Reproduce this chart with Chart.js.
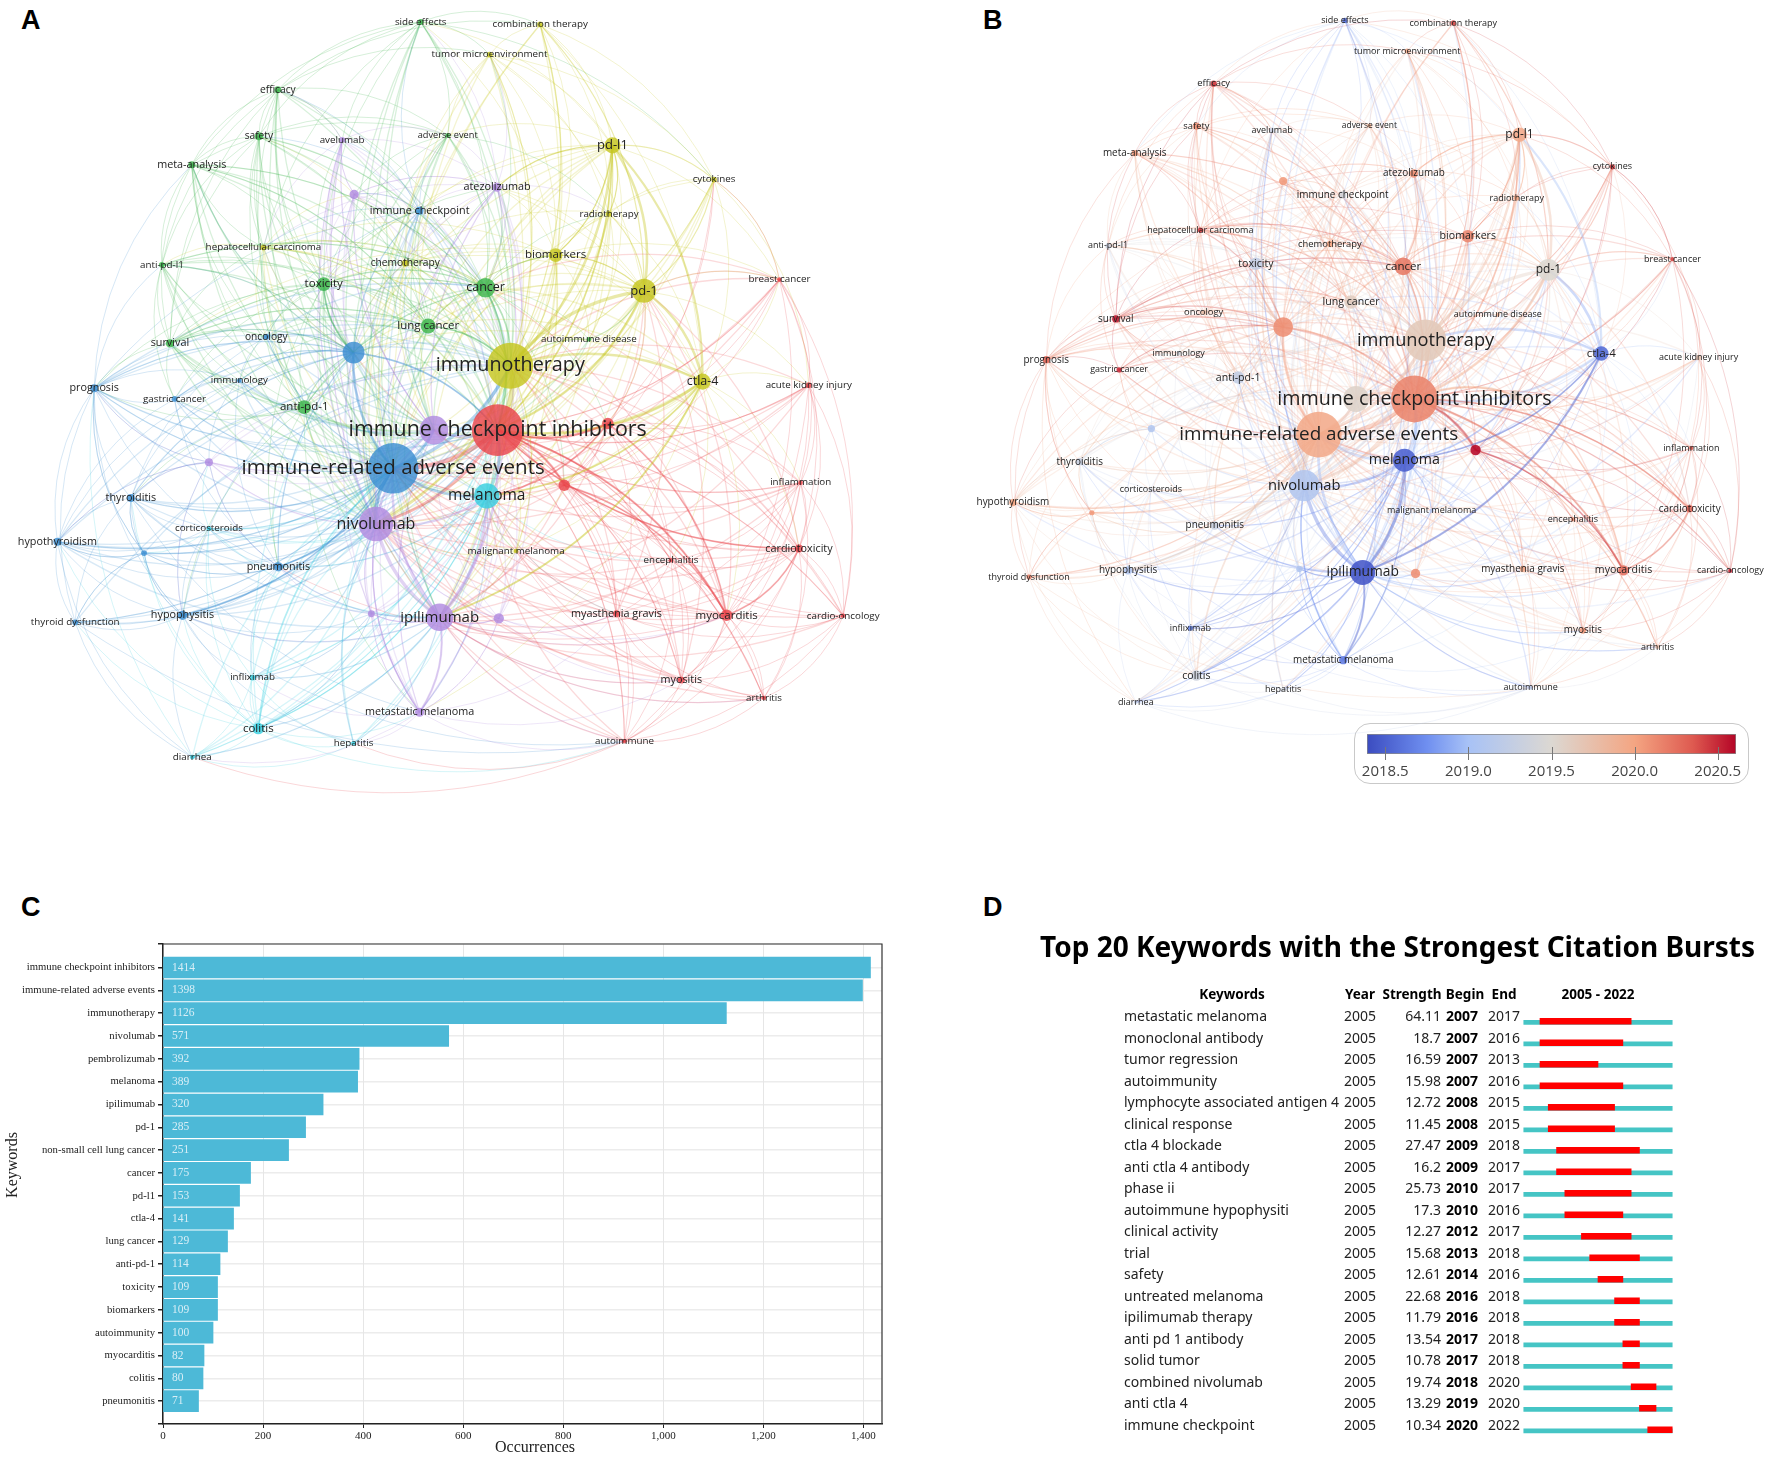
<!DOCTYPE html>
<html>
<head>
<meta charset="utf-8">
<title>Immune checkpoint keywords</title>
<script src="https://cdn.jsdelivr.net/npm/chart.js@4/dist/chart.umd.js"></script>
<style>
  html, body { margin: 0; padding: 0; background: #fff; }
  #page { position: relative; width: 1772px; height: 1461px; overflow: hidden; }
  #page canvas { position: absolute; }
  .letter { position: absolute; font: bold 27px "Liberation Sans", sans-serif; color: #000; line-height: 27px; }
  #legend-box { position: absolute; left: 1354px; top: 723px; width: 393px; height: 59px; border: 1.5px solid #c9c9c9; border-radius: 16px; }
</style>
</head>
<body>
<div id="page">
  <div class="letter" style="left:21px;top:7px">A</div>
  <div class="letter" style="left:983px;top:7px">B</div>
  <div class="letter" style="left:21px;top:894px">C</div>
  <div class="letter" style="left:983px;top:894px">D</div>
  <div id="legend-box"></div>
  <canvas id="net-a" width="900" height="800" style="left:0;top:0"></canvas>
  <canvas id="net-b" width="872" height="800" style="left:900px;top:0"></canvas>
  <canvas id="color-bar" width="409" height="48" style="left:1347px;top:734px"></canvas>
  <canvas id="bars" width="900" height="531" style="left:0;top:930px"></canvas>
  <canvas id="bursts" width="812" height="536" style="left:960px;top:925px"></canvas>
</div>
<script>
// Network nodes, index is the node id. Layout units are 0-1568 on both axes
const nodeNames = ['immune checkpoint inhibitors','immune-related adverse events','immunotherapy','nivolumab','','melanoma','ipilimumab','pd-1','','cancer',
  'pd-l1','ctla-4','lung cancer','anti-pd-1','toxicity','biomarkers','','myocarditis','colitis','pneumonitis',
  '','hypophysitis','survival','prognosis','hypothyroidism','thyroiditis','metastatic melanoma','atezolizumab','immune checkpoint','myasthenia gravis',
  'myositis','cardiotoxicity','chemotherapy','meta-analysis','safety','efficacy','side effects','combination therapy','tumor microenvironment','avelumab',
  'adverse event','cytokines','radiotherapy','hepatocellular carcinoma','anti-pd-l1','breast cancer','autoimmune disease','oncology','immunology','gastric cancer',
  'acute kidney injury','inflammation','corticosteroids','malignant melanoma','encephalitis','thyroid dysfunction','cardio-oncology','arthritis','autoimmune','hepatitis',
  'diarrhea','infliximab','','','','',''];
const nodeXA = [867,685,889,655,756,848,766,1122,616,846,1067,1224,746,530,564,968,1059,1266,450,485,983,318,296,164,100,228,731,866,731,1074,1187,1392,706,334,451,484,733,941,853,596,780,1244,1061,459,282,1358,1026,464,417,304,1409,1395,364,899,1169,131,1469,1331,1088,616,335,440,617,364,251,647,869];
const nodeYA = [843,918,717,1027,843,972,1210,570,691,564,285,748,639,798,557,500,830,1206,1428,1111,951,1206,673,761,1062,976,1396,367,413,1203,1333,1075,516,323,267,176,43,48,107,274,265,352,419,485,519,548,665,660,746,782,755,946,1036,1080,1098,1220,1207,1368,1453,1457,1484,1328,381,906,1084,1203,1212];
const nodeXB = [925,753,945,727,820,907,832,1166,689,905,1114,1261,811,608,640,1021,1106,1301,533,566,1035,410,388,263,203,323,797,924,796,1120,1228,1420,773,422,533,564,800,995,912,669,844,1281,1109,540,374,1389,1075,546,501,394,1436,1423,451,956,1210,232,1493,1362,1134,689,424,522,689,452,345,718,927];
const nodeYB = [782,852,667,952,782,902,1122,529,641,522,264,693,592,740,517,463,775,1118,1324,1030,882,1118,625,705,985,905,1294,340,382,1115,1236,997,478,300,247,164,40,45,100,255,246,327,388,451,482,508,617,612,692,725,701,878,960,1001,1018,1131,1119,1268,1348,1351,1376,1231,355,840,1005,1115,1124];
const nodeWeight = [45,44,40,30,25,22,24,21,19,17,14,14,13,12,12,12,10,10,10,8,10,8,7,7,7,7,8,8,7,6,6,7,6,6,7,6,5,5,5,5,4,5,5,5,5,4,4,5,4,5,5,4,4,4,4,5,4,4,4,4,4,5,8,7,5,6,9];
const labelSize = [21.4,20.5,19.8,16,0,15.5,15,13,0,12.5,13,12.5,11.5,11.5,11.5,11.5,0,11.5,11.5,10.8,0,10.8,10.8,10.8,10.8,10.8,10.8,10.8,10.8,10.8,10.8,10.8,10.2,10.8,10.2,10.2,9.8,9.8,9.8,9.8,9.2,9.8,9.8,9.8,9.8,9.8,9.8,10.2,9.8,9.8,9.8,9.8,9.8,9.8,9.8,9.8,9.8,9.8,9.8,9.8,9.8,9.8,0,0,0,0,0];
const nodeCluster = ['red','blue','yellow','purple','purple','cyan','purple','yellow','blue','green','yellow','yellow','green','green','green','yellow','red','red','cyan','blue','red','blue','green','blue','blue','blue','purple','purple','blue','red','red','red','yellow','green','green','green','green','yellow','yellow','purple','green','yellow','yellow','yellow','green','red','green','blue','blue','blue','red','red','cyan','yellow','red','blue','red','red','red','cyan','cyan','cyan','purple','purple','blue','purple','purple'];
const nodeScore = [2020.15,2019.95,2019.65,2019.1,2019.55,2018.5,2018.45,2019.5,2020.1,2020.2,2019.95,2018.55,2019.6,2019.25,2019.25,2020.15,2019.6,2020.25,2019.35,2019.3,2020.6,2019.1,2020.55,2020.3,2020,2019.3,2018.65,2020.1,2019.4,2019.95,2020.05,2020.3,2020,2020.05,2020.1,2020.45,2018.6,2020.4,2019.95,2019.3,2019.9,2020.45,2020,2020.45,2019.3,2020.4,2019.85,2019.75,2019.35,2020.5,2019.7,2020.35,2019.4,2019.1,2020.1,2020.15,2020.5,2019.75,2019.2,2019.4,2019.25,2018.7,2020.05,2019.1,2020.05,2019.1,2020.1];

// Links: targets of each node, then the thick ones as [from, to, width]
const linkTargets = [
  [16,17,20,29,30,31,45,50,51,54,56,57,58],
  [19,21,24,25,47,48,49,52,55,64,23],
  [15,32,37,38,41,42,43,46,53],
  [26,27,39,62,63,65,66,59,61],
  [26,27,39,62,63,65,66],
  [18,52,59,60,61,19,26,29,53,54],
  [18,19,21,26,27,29,30,53,61,65,66,59,60,17,57,58,39],
  [13,15,27,41,42,45,46,38,32,14,16,37,50],
  [13,14,19,22,23,47,48,49,25,28,32,43,33,44],
  [13,14,15,32,33,34,35,36,40,43,44,22,27,42,46,16,38,20],
  [15,27,32,37,38,41,42,46,14,28,36,40,45],
  [15,31,41,42,45,50,51,53,16,20,17,27,37,26,54],
  [13,14,15,22,32,33,34,40,43,44,27,28,47,48],
  [14,22,33,34,35,44,19,21,23,25,26,43,49,47,48],
  [22,33,34,35,36,40,43,44,47,48,49,23,27,28,32,39,19],
  [27,32,38,41,42,43,46,22,37,45,36],
  [17,20,29,31,45,50,51,54,56,30,41],
  [20,29,30,31,45,50,51,54,56,57,58,53,19],
  [19,21,26,52,59,60,61,25,24,55,64,58,65],
  [21,24,25,55,64,52,61,48,23,49,63],
  [29,30,31,45,50,51,54,56,57,58,41],
  [23,24,25,55,64,52,61,60,59,63,65,58],
  [23,33,34,35,44,47,48,49,43],
  [24,25,47,48,49,55,63,33,44,64,28],
  [25,55,64,52,48,49,63,60],
  [55,64,52,48,63,47,26],
  [39,58,61,65,66,59,29,30,60],
  [28,32,36,38,39,40,42,43,62],
  [32,36,39,40,43,47,62,34,35],
  [30,31,51,54,57,58,56,53],
  [31,54,56,57,58,51,53],
  [45,50,51,54,56,57,58],
  [38,40,42,43,62,34],
  [34,35,36,40,43,44,47],
  [35,36,40,43,44],
  [36,39,40,43,44,37,38],
  [37,38,39,40,43,41],
  [38,41,42],
  [41,42,40],
  [40,62,43,35],
  [62,42],
  [42,45,50],
  [46],
  [44,47,62],
  [47,48,49],
  [50,51,56,41],
  [],
  [48,49],
  [49,63],
  [63],
  [51,56,58],
  [54,56,57],
  [64,63,61],
  [],
  [56,57,58],
  [64,60,58],
  [57,58],
  [58],
  [59,60],
  [60,61],
  [61,23],
  [65],
  [27,39,28,14,9],
  [13,19,24,25,21,23],
  [24,21,19,55,25,23],
  [26,19,18,61,6],
  [26,29,17,30,53,6]
];
// Same idea, for the links that run from each node into the big central nodes
const hubTargets = [
  [],[],[],[],[],[],[],
  [0,1,3,4,5,6,8,9,12],
  [0,1,2,3,4,5,6],
  [0,1,3,4,5,6,8,12],
  [0,1,3,4,5,6,8,9,12],
  [0,1,3,4,5,6,8,9,12],
  [0,1,2,3,4,5,6],
  [0,1,2,3,4,5,6,8,9],
  [0,1,2,3,4,5,6,8,9],
  [0,1,2,3,4,5,6,9,12],
  [0,1,2,3,4,5,6,7],
  [0,1,2,3,4,5,6,7,9],
  [0,2,3,4,6,8],
  [0,2,3,4,5,6,8],
  [0,1,2,3,4,5,6,7,8],
  [0,2,3,4,5,6,8],
  [0,1,2,3,4,5,8,9,12],
  [0,1,2,3,4,8,9,12],
  [0,1,2,3,4,6,8],
  [0,1,2,3,4,6,8],
  [0,1,2,3,4,5,8],
  [0,1,2,3,4,5,6,8,9],
  [0,1,2,3,4,5,6,8],
  [0,1,2,3,5,6,7],
  [0,1,2,3,5,6,7],
  [0,1,2,3,4,6,7,9],
  [0,1,2,3,4,8,9],
  [0,1,2,3,4,8,9,12],
  [0,1,2,3,8,9],
  [0,1,2,3,4,8],
  [0,1,2,3,4,6],
  [0,1,2,3,6,7],
  [0,2,3,4,6],
  [0,1,2,3,4,6,8],
  [0,1,2,3,4,8],
  [0,1,2,3,7,10],
  [0,1,2,3,7],
  [0,1,2,3,8,9,12],
  [0,1,2,3,4,8,9],
  [0,1,2,3,7,9],
  [0,1,2,7],
  [0,1,2,8,9],
  [0,1,3,8,4],
  [0,1,2,3,8],
  [0,1,2,3,6],
  [0,1,2,3,6],
  [0,1,3,6],
  [0,1,2,3,5,6],
  [0,1,3,6],
  [0,1,2,3],
  [0,1,2,6],
  [0,1,6,3],
  [0,1,3,6,5],
  [0,1,3,6],
  [0,1,3,6,5],
  [0,1,3,5,6],
  [0,1,2,3,4,6],
  [0,1,2,3,4],
  [0,1,2,3],
  [0,1,3,5,6],
  [0,1,3,5,6,2]
];
const heavyLinks = [[0,1,5],[2,0,5],[0,3,3.5],[4,0,3],[5,0,3],[6,0,3],[1,2,4],[1,3,4],[1,4,3],[1,5,3],[6,1,3],[2,3,3],[7,2,4],[10,2,3],[11,2,3],[10,7,3],[11,7,3],[7,0,3],[10,0,2],[11,0,3],[6,3,4],[4,3,2.5],[6,5,3.5],[3,5,2.5],[17,0,2.5],[19,1,2],[21,1,2],[18,1,2],[18,5,1.5],[26,6,2.5],[26,3,1.5],[20,0,3],[16,0,3],[9,2,2],[12,2,2],[9,0,2],[8,0,2],[8,1,3],[14,8,2],[31,0,2],[31,17,2],[17,20,2],[17,16,2],[11,6,2.5],[11,5,2],[16,5,2],[10,27,1.5],[10,15,1.5],[10,42,1.2],[7,15,1.5],[11,10,2.5]];

const clusterColors = { red:'#e9444a', blue:'#3d8fd2', yellow:'#c6c61e', green:'#3cb44b', purple:'#b18be0', cyan:'#38cfe0' };

// Overlay colour scale
const scoreStops = [2018.39,2018.75,2019,2019.5,2020,2020.35,2020.61];
const scoreColors = ['#3b4cc0','#6f8ff0','#a8c2f6','#dcd8d2','#f4a582','#de5a50','#b40426'];
const scoreTicks = [2018.5,2019,2019.5,2020,2020.5];

// Panel C
const keywords = ['immune checkpoint inhibitors','immune-related adverse events','immunotherapy','nivolumab','pembrolizumab','melanoma','ipilimumab','pd-1','non-small cell lung cancer','cancer','pd-l1','ctla-4','lung cancer','anti-pd-1','toxicity','biomarkers','autoimmunity','myocarditis','colitis','pneumonitis'];
const occurrences = [1414,1398,1126,571,392,389,320,285,251,175,153,141,129,114,109,109,100,82,80,71];

// Panel D
const burstKeywords = ['metastatic melanoma','monoclonal antibody','tumor regression','autoimmunity','lymphocyte associated antigen 4','clinical response','ctla 4 blockade','anti ctla 4 antibody','phase ii','autoimmune hypophysiti','clinical activity','trial','safety','untreated melanoma','ipilimumab therapy','anti pd 1 antibody','solid tumor','combined nivolumab','anti ctla 4','immune checkpoint'];
const burstStrength = [64.11,18.7,16.59,15.98,12.72,11.45,27.47,16.2,25.73,17.3,12.27,15.68,12.61,22.68,11.79,13.54,10.78,19.74,13.29,10.34];
const burstBegin = [2007,2007,2007,2007,2008,2008,2009,2009,2010,2010,2012,2013,2014,2016,2016,2017,2017,2018,2019,2020];
const burstEnd = [2017,2016,2013,2016,2015,2015,2018,2017,2017,2016,2017,2018,2016,2018,2018,2018,2018,2020,2020,2022];
const burstFirstYear = 2005;
const burstLastYear = 2022;

const noMotion = { animation: false, responsive: false, devicePixelRatio: 1, events: [] };
const noChrome = { legend: { display: false }, tooltip: { enabled: false } };

const hexToRgb = hex => [1, 3, 5].map(i => parseInt(hex.slice(i, i + 2), 16));

// piecewise interpolation through the colour scale
function scoreColor(v, alpha = 1){
  let i = 0;
  while(i < scoreStops.length - 2 && v > scoreStops[i + 1]) i++;
  const t = Math.min(1, Math.max(0, (v - scoreStops[i]) / (scoreStops[i + 1] - scoreStops[i])));
  const a = hexToRgb(scoreColors[i]), b = hexToRgb(scoreColors[i + 1]);
  const c = a.map((n, k) => Math.round(n + (b[k] - n) * t));
  return `rgba(${c[0]},${c[1]},${c[2]},${alpha})`;
}

function clusterColor(i, alpha = 1){
  const c = hexToRgb(clusterColors[nodeCluster[i]]);
  return `rgba(${c[0]},${c[1]},${c[2]},${alpha})`;
}

// link colour in panel B leans to whichever end is further from the middle of the scale
function scoreLinkColor(a, b, alpha){
  const sa = nodeScore[a], sb = nodeScore[b], mid = 2019.5;
  const far = Math.abs(sa - mid) > Math.abs(sb - mid) ? sa : sb;
  const near = far === sa ? sb : sa;
  return scoreColor(far * 0.7 + near * 0.3, alpha);
}

// Arc from a to b, bulging away from the middle of the map
function drawLink(ctx, scales, xs, ys, a, b){
  const ax = scales.x.getPixelForValue(xs[a]), ay = scales.y.getPixelForValue(ys[a]);
  const bx = scales.x.getPixelForValue(xs[b]), by = scales.y.getPixelForValue(ys[b]);
  const mx = (ax + bx) / 2, my = (ay + by) / 2;
  let nx = -(by - ay) * 0.2, ny = (bx - ax) * 0.2;
  const cx = scales.x.getPixelForValue(780), cy = scales.y.getPixelForValue(800);
  if(nx * (mx - cx) + ny * (my - cy) < 0){ nx = -nx; ny = -ny; }
  ctx.beginPath();
  ctx.moveTo(ax, ay);
  ctx.quadraticCurveTo(mx + nx, my + ny, bx, by);
  ctx.stroke();
}

function networkChart(id, xs, ys, radiusScale, textScale, nodeColor, linkColor){
  const networkPlugin = {
    id: 'network',
    beforeDatasetsDraw(chart){
      const { ctx, scales } = chart;
      ctx.save();
      ctx.lineWidth = 0.9;
      linkTargets.forEach((targets, a) => targets.forEach(b => {
        ctx.strokeStyle = linkColor(a, b, 0.24);
        drawLink(ctx, scales, xs, ys, a, b);
      }));
      ctx.lineWidth = 1.3;
      hubTargets.forEach((targets, a) => targets.forEach(b => {
        ctx.strokeStyle = linkColor(a, b, 0.2);
        drawLink(ctx, scales, xs, ys, a, b);
      }));
      heavyLinks.forEach(([a, b, w]) => {
        ctx.strokeStyle = linkColor(a, b, 0.38);
        ctx.lineWidth = w * 0.85;
        drawLink(ctx, scales, xs, ys, a, b);
      });
      ctx.restore();
    },
    afterDatasetsDraw(chart){
      const { ctx, scales } = chart;
      ctx.save();
      ctx.textAlign = 'center';
      ctx.textBaseline = 'middle';
      ctx.fillStyle = '#222';
      nodeNames.forEach((name, i) => {
        if(!name) return;
        ctx.font = `${labelSize[i] * textScale}px "Open Sans"`;
        ctx.fillText(name, scales.x.getPixelForValue(xs[i]), scales.y.getPixelForValue(ys[i]));
      });
      ctx.restore();
    }
  };
  return new Chart(document.getElementById(id), {
    type: 'bubble',
    data: {
      datasets: [{
        data: nodeNames.map((_, i) => ({ x: xs[i], y: ys[i], r: nodeWeight[i] * radiusScale })),
        backgroundColor: nodeNames.map((_, i) => nodeColor(i)),
        borderWidth: 0
      }]
    },
    options: {
      ...noMotion,
      layout: { padding: 0, autoPadding: false },
      plugins: noChrome,
      scales: {
        x: { display: false, min: 0, max: 1568 },
        y: { display: false, min: 0, max: 1568, reverse: true }
      }
    },
    plugins: [networkPlugin]
  });
}

function setupColorBar(){
  const canvas = document.getElementById('color-bar');
  const lo = scoreStops[0], hi = scoreStops[scoreStops.length - 1];
  const side = 20;
  const grad = canvas.getContext('2d').createLinearGradient(side, 0, canvas.width - side, 0);
  scoreStops.forEach((v, i) => grad.addColorStop((v - lo) / (hi - lo), scoreColors[i]));
  new Chart(canvas, {
    type: 'bar',
    data: {
      labels: ['score'],
      datasets: [{ data: [[lo, hi]], backgroundColor: grad, borderColor: '#8a8a8a', borderWidth: 1, borderSkipped: false, barPercentage: 1, categoryPercentage: 1 }]
    },
    options: {
      ...noMotion,
      indexAxis: 'y',
      layout: { padding: { left: side, right: side }, autoPadding: false },
      plugins: noChrome,
      scales: {
        y: { display: false },
        x: {
          min: lo, max: hi,
          grid: { display: false },
          border: { display: false },
          afterBuildTicks: axis => { axis.ticks = scoreTicks.map(value => ({ value })); },
          afterFit: axis => { axis.height = 28; axis.paddingLeft = 0; axis.paddingRight = 0; },
          ticks: { autoSkip: false, maxRotation: 0, padding: 1, color: '#444', font: { family: '"Open Sans"', size: 15 }, callback: v => v.toFixed(1) }
        }
      }
    },
    plugins: [{
      id: 'scoreTickMarks',
      afterDraw(chart){
        const { ctx, scales, chartArea } = chart;
        ctx.save();
        ctx.strokeStyle = '#777';
        scoreTicks.forEach(v => {
          const x = Math.round(scales.x.getPixelForValue(v)) + 0.5;
          ctx.beginPath();
          ctx.moveTo(x, chartArea.bottom - 7);
          ctx.lineTo(x, chartArea.bottom + 6);
          ctx.stroke();
        });
        ctx.restore();
      }
    }]
  });
}

function setupBars(){
  const serif = '"Liberation Serif"';
  new Chart(document.getElementById('bars'), {
    type: 'bar',
    data: {
      datasets: [{
        data: occurrences.map((v, i) => ({ x: v, y: i })),
        backgroundColor: '#4db9d7',
        barThickness: 21
      }]
    },
    options: {
      ...noMotion,
      indexAxis: 'y',
      layout: { padding: { top: 14, right: 18, left: 0, bottom: 0 }, autoPadding: false },
      plugins: noChrome,
      scales: {
        y: {
          type: 'linear',
          reverse: true,
          offset: false,
          min: -1.03,
          max: 20,
          grid: { offset: false, color: '#ececec', lineWidth: 1.5, tickColor: '#222', tickLength: 5 },
          border: { color: '#222', width: 1.5 },
          afterBuildTicks: axis => { axis.ticks = [-1.03, ...keywords.map((_, i) => i), 20].map(value => ({ value })); },
          afterFit: axis => { axis.width = 163; },
          ticks: { autoSkip: false, padding: 3, color: '#222', font: { family: serif, size: 10.7 }, callback: v => keywords[v] || '' }
        },
        x: {
          min: 0,
          max: 1437,
          grid: { color: '#e6e6e6', tickColor: '#222', tickLength: 4 },
          border: { color: '#222', width: 1.5 },
          afterBuildTicks: axis => { axis.ticks = [0,200,400,600,800,1000,1200,1400].map(value => ({ value })); },
          afterFit: axis => { axis.height = 37; },
          ticks: { autoSkip: false, maxRotation: 0, padding: 2, color: '#222', font: { family: serif, size: 11 }, callback: v => v.toLocaleString('en-US') }
        }
      }
    },
    plugins: [{
      id: 'barText',
      afterDatasetsDraw(chart){
        const { ctx, scales, chartArea } = chart;
        ctx.save();
        // closing frame on the top and right
        ctx.strokeStyle = '#333';
        ctx.lineWidth = 1.2;
        ctx.beginPath();
        ctx.moveTo(chartArea.left, chartArea.top);
        ctx.lineTo(chartArea.right, chartArea.top);
        ctx.lineTo(chartArea.right, chartArea.bottom);
        ctx.stroke();
        // values inside the bars
        ctx.fillStyle = '#d8eef6';
        ctx.font = `11.5px ${serif}`;
        ctx.textBaseline = 'middle';
        occurrences.forEach((v, i) => ctx.fillText(v, chartArea.left + 9, scales.y.getPixelForValue(i)));
        // axis titles
        ctx.fillStyle = '#222';
        ctx.textAlign = 'center';
        ctx.font = `16px ${serif}`;
        ctx.fillText('Occurrences', 535, 518);
        ctx.translate(13, 235);
        ctx.rotate(-Math.PI / 2);
        ctx.font = `16px ${serif}`;
        ctx.fillText('Keywords', 0, 0);
        ctx.restore();
      }
    }]
  });
}

function setupBursts(){
  const sans = '"Noto Sans"';
  const left = 563.4, right = 99.4;
  new Chart(document.getElementById('bursts'), {
    type: 'bar',
    data: {
      datasets: [
        { data: burstBegin.map((v, i) => ({ x: [v, burstEnd[i] + 1], y: i })), yAxisID: 'y', backgroundColor: '#ff0000', barThickness: 6, order: 0 },
        { data: burstBegin.map((_, i) => ({ x: [burstFirstYear, burstLastYear + 1], y: i })), yAxisID: 'yBack', backgroundColor: '#45c5c5', barThickness: 4, order: 1 }
      ]
    },
    options: {
      ...noMotion,
      indexAxis: 'y',
      layout: { padding: { top: 85.5, bottom: 20.5, left, right }, autoPadding: false },
      plugins: noChrome,
      datasets: { bar: { grouped: false } },
      scales: {
        x: { display: false, min: burstFirstYear, max: burstLastYear + 1 },
        y: { type: 'linear', display: false, reverse: true, offset: false, min: -0.5, max: 19.5 },
        yBack: { type: 'linear', display: false, reverse: true, offset: false, min: -0.55, max: 19.45 }
      }
    },
    plugins: [{
      id: 'burstTable',
      afterDatasetsDraw(chart){
        const { ctx, scales } = chart;
        ctx.save();
        ctx.fillStyle = '#000';
        ctx.textBaseline = 'middle';
        ctx.font = `bold 28px ${sans}`;
        ctx.textAlign = 'center';
        ctx.fillText('Top 20 Keywords with the Strongest Citation Bursts', 437.5, 24);
        const headY = scales.y.getPixelForValue(0) - 26;
        ctx.font = `bold 13.5px ${sans}`;
        [['Keywords',272],['Year',400],['Strength',452],['Begin',505],['End',544],['2005 - 2022',638]].forEach(([t, x]) => ctx.fillText(t, x, headY));
        burstKeywords.forEach((name, i) => {
          const y = scales.y.getPixelForValue(i) - 4;
          ctx.font = `14px ${sans}`;
          ctx.fillStyle = '#222';
          ctx.textAlign = 'left';
          ctx.fillText(name, 164, y);
          ctx.fillText(burstFirstYear, 384, y);
          ctx.textAlign = 'right';
          ctx.fillText(burstStrength[i], 481, y);
          ctx.fillText(burstEnd[i], 560, y);
          ctx.font = `bold 14px ${sans}`;
          ctx.fillStyle = '#000';
          ctx.fillText(burstBegin[i], 518, y);
        });
        ctx.restore();
      }
    }]
  });
}

function init(){
  networkChart('net-a', nodeXA, nodeYA, 0.574, 1,
    i => clusterColor(i, 0.82),
    (a, b, alpha) => clusterColor(a, alpha));
  networkChart('net-b', nodeXB, nodeYB, 0.52, 0.92,
    i => scoreColor(nodeScore[i], 0.88),
    scoreLinkColor);
  setupColorBar();
  setupBars();
  setupBursts();
}

document.addEventListener('DOMContentLoaded', init);
</script>
</body>
</html>
